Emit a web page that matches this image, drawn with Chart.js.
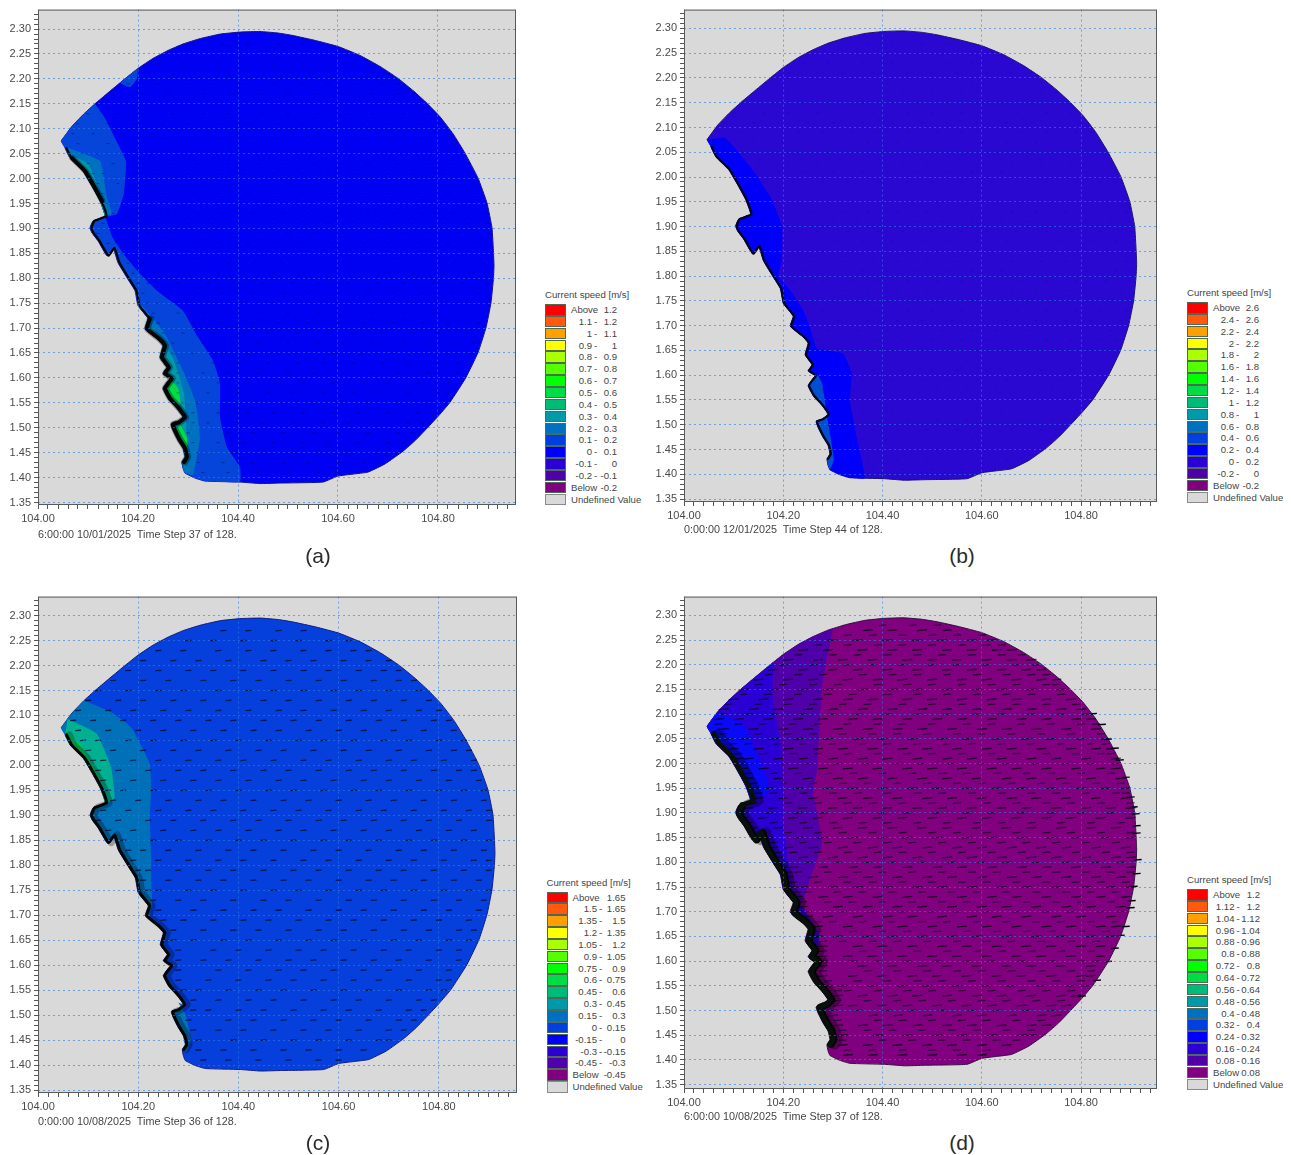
<!DOCTYPE html>
<html><head><meta charset="utf-8">
<script src="https://cdn.jsdelivr.net/npm/chart.js@4/dist/chart.umd.min.js"></script>
<style>
html,body{margin:0;padding:0;background:#fff;width:1291px;height:1155px;overflow:hidden;font-family:"Liberation Sans",Arial,sans-serif;}
body{filter:blur(.35px);}
canvas{position:absolute;display:block;}
.t{position:absolute;white-space:pre;color:#454545;font-size:9.6px;line-height:12px;}
.c{position:absolute;white-space:pre;color:#2a2a2a;font-size:21px;line-height:24px;transform:translateX(-50%);}
.s{position:absolute;box-sizing:border-box;border:1px solid #4d6a58;}
</style></head><body>
<script>
// ---------- data, [lon, lat] ----------
const yTickLabels=['2.30','2.25','2.20','2.15','2.10','2.05','2.00','1.95','1.90','1.85','1.80','1.75','1.70','1.65','1.60','1.55','1.50','1.45','1.40','1.35'];
const xTickLabels=['104.00','104.20','104.40','104.60','104.80'];

const outerArc=[[104.046,2.075],[104.068,2.105],[104.092,2.130],[104.114,2.150],[104.140,2.172],[104.170,2.197],[104.200,2.221],[104.230,2.241],[104.260,2.257],[104.290,2.270],[104.325,2.281],[104.365,2.290],[104.405,2.294],[104.444,2.295],[104.480,2.292],[104.510,2.287],[104.555,2.277],[104.600,2.265],[104.644,2.247],[104.684,2.225],[104.720,2.201],[104.752,2.175],[104.778,2.151],[104.804,2.124],[104.830,2.090],[104.854,2.051],[104.880,2.001],[104.898,1.951],[104.908,1.901],[104.911,1.851],[104.912,1.825],[104.911,1.801],[104.906,1.751],[104.896,1.701],[104.880,1.651],[104.856,1.601],[104.824,1.551],[104.802,1.525],[104.778,1.499],[104.755,1.475],[104.730,1.453],[104.695,1.428],[104.660,1.411],[104.630,1.407],[104.600,1.403],[104.570,1.391],[104.484,1.389],[104.444,1.388],[104.404,1.391],[104.334,1.393],[104.314,1.399],[104.294,1.409],[104.290,1.419]];
const coast=[[104.288,1.431],[104.294,1.441],[104.290,1.459],[104.280,1.475],[104.270,1.495],[104.266,1.507],[104.278,1.511],[104.290,1.521],[104.278,1.539],[104.260,1.559],[104.250,1.579],[104.258,1.591],[104.264,1.599],[104.250,1.609],[104.258,1.621],[104.244,1.641],[104.250,1.665],[104.238,1.679],[104.214,1.699],[104.220,1.719],[104.200,1.745],[104.194,1.775],[104.178,1.801],[104.160,1.831],[104.150,1.861],[104.138,1.845],[104.120,1.875],[104.108,1.891],[104.104,1.901],[104.110,1.915],[104.134,1.925],[104.124,1.955],[104.110,1.981],[104.090,2.015],[104.064,2.041],[104.054,2.061]];
const northWestArc=[[104.046,2.075],[104.068,2.105],[104.092,2.130],[104.114,2.150]];

// contour bands of panel (a)
const aNorth1=[[104.114,2.150],[104.134,2.121],[104.154,2.081],[104.176,2.035],[104.172,1.971],[104.158,1.929],[104.134,1.923]];
const aPatch=[[104.200,2.221],[104.164,2.192],[104.184,2.183],[104.198,2.199]];
const aSouth1=[[104.134,1.925],[104.150,1.880],[104.174,1.845],[104.190,1.825],[104.204,1.809],[104.238,1.775],[104.290,1.735],[104.318,1.685],[104.350,1.635],[104.364,1.589],[104.364,1.521],[104.378,1.461],[104.404,1.421],[104.404,1.391],[104.334,1.393],[104.314,1.399],[104.294,1.409],[104.290,1.419]];
const aNorth2=[[104.060,2.062],[104.124,2.035],[104.138,1.961],[104.148,1.929],[104.134,1.925]];
const aSouth2=[[104.208,1.745],[104.250,1.695],[104.290,1.615],[104.314,1.555],[104.324,1.481],[104.310,1.405],[104.294,1.409],[104.290,1.419]];
const aNorth3=[[104.060,2.050],[104.100,2.030],[104.125,1.970],[104.135,1.930]];
const aSouth3=[[104.230,1.700],[104.270,1.640],[104.292,1.570],[104.298,1.470],[104.295,1.420]];
const aGreen1=[[104.262,1.600],[104.280,1.580],[104.285,1.550],[104.275,1.535]];
const aGreen2=[[104.285,1.505],[104.298,1.480],[104.298,1.450],[104.292,1.440]];

// contour bands of panel (b)
const bBlue=[[104.046,2.075],[104.083,2.079],[104.133,2.022],[104.173,1.962],[104.197,1.902],[104.197,1.831],[104.190,1.800],[104.215,1.770],[104.240,1.731],[104.254,1.696],[104.268,1.654],[104.320,1.644],[104.338,1.604],[104.334,1.550],[104.348,1.475],[104.364,1.392],[104.334,1.393],[104.314,1.399],[104.294,1.409],[104.290,1.419]];
const bMid=[[104.270,1.600],[104.278,1.584],[104.285,1.540],[104.292,1.495],[104.302,1.430],[104.294,1.409],[104.290,1.419]];

// contour bands of panel (c)
const cBand1=[[104.092,2.130],[104.149,2.105],[104.187,2.075],[104.223,2.004],[104.226,1.950],[104.223,1.896],[104.226,1.816],[104.226,1.770],[104.228,1.724],[104.222,1.700]];
const cBand1Tail=[[104.046,2.075],[104.068,2.105]];
const cSouth=[[104.280,1.525],[104.295,1.500],[104.305,1.450],[104.295,1.425]];
const cBand2=[[104.059,2.093],[104.117,2.064],[104.146,1.996],[104.153,1.935],[104.138,1.924]];
const cBand3=[[104.056,2.070],[104.082,2.045],[104.100,2.015],[104.122,1.975],[104.134,1.930]];

// contour bands of panel (d)
const dBand1=[[104.300,2.274],[104.278,2.154],[104.268,1.987],[104.260,1.946],[104.278,1.839],[104.254,1.765],[104.236,1.715]];
const dBand1Tail=[[104.046,2.075],[104.068,2.105],[104.092,2.130],[104.114,2.150],[104.140,2.172],[104.170,2.197],[104.200,2.221],[104.230,2.241],[104.260,2.257]];
const dBand2=[[104.180,2.205],[104.179,2.130],[104.197,2.027],[104.199,1.946],[104.199,1.880],[104.213,1.785],[104.223,1.715]];
const dBand2Tail=[[104.046,2.075],[104.068,2.105],[104.092,2.130],[104.114,2.150],[104.140,2.172]];
const dBand3=[[104.066,2.103],[104.119,2.081],[104.143,2.027],[104.167,1.972],[104.169,1.940],[104.139,1.926]];
const dBand4=[[104.236,1.715],[104.272,1.655],[104.270,1.630],[104.262,1.600]];

// current arrows: lat, then lon minus 104
const arrowRows=[
[2.27,.37,.42,.48,.53],
[2.25,.30,.35,.41,.47,.52,.58,.62],
[2.23,.24,.29,.36,.42,.47,.53,.58,.63,.66],
[2.21,.21,.27,.32,.38,.45,.50,.55,.61,.66,.70],
[2.19,.18,.24,.30,.35,.41,.47,.53,.58,.64,.69,.72],
[2.17,.15,.21,.26,.33,.39,.44,.50,.56,.61,.67,.72,.75],
[2.15,.12,.18,.24,.29,.36,.42,.47,.53,.59,.64,.70,.76],
[2.13,.10,.16,.21,.27,.33,.38,.45,.50,.56,.62,.67,.73,.78],
[2.11,.08,.14,.19,.25,.30,.36,.42,.48,.53,.59,.65,.70,.76,.80],
[2.09,.07,.11,.17,.23,.28,.34,.39,.45,.51,.56,.62,.68,.73,.79,.82],
[2.07,.08,.14,.20,.25,.31,.37,.43,.48,.54,.60,.65,.71,.77,.83],
[2.05,.09,.12,.18,.23,.29,.35,.40,.46,.52,.57,.63,.69,.74,.80,.85],
[2.03,.10,.15,.21,.27,.32,.38,.44,.49,.55,.61,.66,.72,.78,.83,.86],
[2.01,.11,.13,.19,.24,.30,.36,.41,.47,.53,.58,.64,.70,.75,.81,.87],
[1.99,.12,.16,.22,.28,.33,.39,.45,.50,.56,.62,.67,.73,.79,.84,.87],
[1.97,.13,.19,.25,.31,.36,.42,.48,.53,.59,.65,.70,.76,.82,.88],
[1.95,.14,.17,.23,.29,.34,.40,.46,.51,.57,.63,.68,.74,.80,.85,.89],
[1.93,.15,.20,.26,.32,.37,.43,.49,.54,.60,.66,.71,.77,.83,.89],
[1.91,.13,.18,.24,.30,.35,.41,.47,.52,.58,.64,.69,.75,.81,.86,.90],
[1.89,.12,.16,.22,.27,.33,.39,.44,.50,.56,.61,.67,.73,.78,.84,.90],
[1.87,.14,.19,.25,.31,.36,.42,.48,.53,.59,.65,.70,.76,.82,.87],
[1.85,.17,.23,.28,.34,.40,.45,.51,.57,.62,.68,.74,.79,.85,.90],
[1.83,.18,.21,.26,.32,.38,.43,.49,.55,.60,.66,.72,.77,.83,.89],
[1.81,.19,.24,.30,.36,.41,.47,.53,.58,.64,.70,.75,.81,.87,.90],
[1.79,.20,.22,.28,.34,.39,.45,.51,.56,.62,.68,.73,.79,.85,.90],
[1.77,.21,.26,.32,.37,.43,.49,.54,.60,.66,.71,.77,.83,.88],
[1.75,.22,.24,.30,.35,.41,.47,.52,.58,.64,.69,.75,.81,.86,.90],
[1.73,.23,.28,.33,.39,.45,.50,.56,.62,.67,.73,.79,.84,.89],
[1.71,.24,.31,.37,.43,.48,.54,.60,.65,.71,.77,.82,.88],
[1.69,.25,.29,.35,.41,.46,.52,.58,.63,.69,.75,.80,.86],
[1.67,.27,.33,.39,.44,.50,.56,.61,.67,.73,.78,.84,.87],
[1.65,.27,.31,.37,.42,.48,.54,.59,.65,.71,.76,.82,.86],
[1.63,.28,.35,.40,.46,.52,.57,.63,.69,.74,.80,.84],
[1.61,.28,.33,.38,.44,.50,.55,.61,.67,.72,.78,.84],
[1.59,.28,.36,.42,.48,.53,.59,.65,.70,.76,.82],
[1.57,.28,.34,.40,.46,.51,.57,.63,.68,.74,.80,.82],
[1.55,.29,.32,.38,.44,.49,.55,.61,.66,.72,.78,.81],
[1.53,.31,.36,.42,.47,.53,.59,.64,.70,.76,.79],
[1.51,.31,.34,.40,.45,.51,.57,.62,.68,.74,.77],
[1.49,.30,.38,.43,.49,.55,.60,.66,.72,.75],
[1.47,.31,.36,.41,.47,.53,.58,.64,.70,.73],
[1.45,.32,.39,.45,.51,.56,.62,.68,.70],
[1.43,.32,.37,.43,.49,.54,.60,.65],
[1.41,.33,.38,.44,.50,.56,.60]];
// denser field seen only in panel (d)
const arrowRowsD=[
[2.28,.40,.46,.51],
[2.26,.33,.38,.44,.50,.55,.60],
[2.24,.27,.33,.39,.44,.50,.56,.61,.64],
[2.22,.23,.30,.35,.41,.47,.52,.58,.64,.68],
[2.20,.20,.26,.33,.38,.44,.50,.55,.61,.67,.71],
[2.18,.17,.23,.28,.36,.42,.47,.53,.59,.65,.70,.73],
[2.16,.15,.20,.26,.31,.39,.45,.50,.56,.62,.67,.73,.75],
[2.14,.12,.17,.23,.29,.34,.41,.47,.53,.59,.65,.70,.76],
[2.12,.09,.15,.21,.26,.32,.37,.44,.50,.56,.62,.67,.73,.79],
[2.10,.08,.13,.18,.24,.30,.35,.41,.47,.53,.59,.64,.70,.76,.81],
[2.08,.07,.11,.16,.22,.27,.33,.39,.44,.50,.57,.62,.68,.74,.80,.83],
[2.06,.08,.15,.21,.26,.32,.38,.43,.49,.55,.60,.66,.72,.78,.84],
[2.04,.10,.13,.19,.24,.30,.36,.41,.47,.53,.58,.64,.70,.76,.82,.85],
[2.02,.11,.16,.22,.27,.33,.39,.45,.50,.56,.62,.67,.73,.79,.84,.86],
[2.00,.12,.14,.20,.25,.31,.37,.43,.48,.54,.60,.65,.71,.77,.82,.87],
[1.98,.13,.18,.23,.29,.34,.40,.46,.52,.57,.63,.69,.74,.80,.86],
[1.96,.14,.20,.26,.32,.37,.43,.49,.55,.60,.66,.72,.77,.83,.88],
[1.94,.15,.18,.24,.30,.35,.41,.47,.52,.58,.64,.70,.75,.81,.87,.89],
[1.92,.14,.21,.27,.33,.38,.44,.50,.55,.61,.67,.73,.78,.84,.90],
[1.90,.12,.17,.23,.28,.34,.40,.45,.51,.57,.62,.68,.74,.80,.86],
[1.88,.13,.18,.24,.30,.36,.41,.47,.53,.59,.64,.70,.76,.82,.88],
[1.86,.16,.21,.27,.32,.38,.44,.50,.55,.61,.67,.73,.78,.84,.90],
[1.84,.18,.24,.29,.35,.41,.46,.52,.58,.64,.69,.75,.81,.87],
[1.82,.19,.22,.27,.33,.39,.44,.50,.56,.62,.68,.73,.79,.85,.90],
[1.80,.20,.25,.31,.37,.42,.48,.54,.60,.65,.71,.77,.83,.88],
[1.78,.21,.23,.29,.35,.40,.46,.52,.58,.63,.69,.75,.81,.86,.90],
[1.76,.22,.27,.33,.38,.44,.50,.56,.61,.67,.73,.79,.84,.89],
[1.74,.23,.25,.31,.36,.42,.48,.54,.59,.65,.71,.77,.82,.87],
[1.72,.24,.29,.34,.40,.46,.52,.57,.63,.69,.75,.80,.86],
[1.70,.25,.32,.38,.44,.50,.55,.61,.67,.73,.78,.84,.88],
[1.68,.27,.30,.36,.42,.48,.53,.59,.65,.71,.76,.82,.87],
[1.66,.27,.34,.40,.45,.51,.57,.63,.69,.74,.80,.85],
[1.64,.28,.32,.38,.43,.49,.55,.61,.66,.72,.78,.83],
[1.62,.28,.36,.41,.47,.53,.59,.64,.70,.76,.82],
[1.60,.28,.34,.39,.45,.51,.57,.62,.68,.74,.80,.83],
[1.58,.28,.37,.43,.49,.55,.60,.66,.72,.78,.82],
[1.56,.29,.35,.41,.47,.52,.58,.64,.70,.75,.80],
[1.54,.31,.33,.39,.45,.50,.56,.62,.68,.73,.78],
[1.52,.31,.37,.43,.48,.54,.60,.65,.71,.76],
[1.50,.30,.35,.41,.46,.52,.58,.63,.69,.74],
[1.48,.31,.39,.44,.50,.56,.61,.67,.72],
[1.46,.32,.37,.42,.48,.54,.59,.65,.70],
[1.44,.32,.40,.46,.52,.57,.63,.67],
[1.42,.33,.38,.44,.50,.55,.61]];
const dEdgeArrows=[[104.824,2.101],[104.842,2.079],[104.854,2.049],[104.868,2.031],[104.878,2.007],[104.890,1.972],[104.900,1.932],[104.906,1.912],[104.910,1.898],[104.912,1.874],[104.912,1.859],[104.914,1.805],[104.912,1.777],[104.906,1.751],[104.902,1.722],[104.900,1.708],[104.890,1.670],[104.880,1.652],[104.868,1.626],[104.854,1.599],[104.832,1.561],[104.802,1.529]];

// legends
const legendTitle='Current speed [m/s]';
const legendA=[['Above','1.2'],['1.1','1.2'],['1','1.1'],['0.9','1'],['0.8','0.9'],['0.7','0.8'],['0.6','0.7'],['0.5','0.6'],['0.4','0.5'],['0.3','0.4'],['0.2','0.3'],['0.1','0.2'],['0','0.1'],['-0.1','0'],['-0.2','-0.1'],['Below','-0.2']];
const legendB=[['Above','2.6'],['2.4','2.6'],['2.2','2.4'],['2','2.2'],['1.8','2'],['1.6','1.8'],['1.4','1.6'],['1.2','1.4'],['1','1.2'],['0.8','1'],['0.6','0.8'],['0.4','0.6'],['0.2','0.4'],['0','0.2'],['-0.2','0'],['Below','-0.2']];
const legendC=[['Above','1.65'],['1.5','1.65'],['1.35','1.5'],['1.2','1.35'],['1.05','1.2'],['0.9','1.05'],['0.75','0.9'],['0.6','0.75'],['0.45','0.6'],['0.3','0.45'],['0.15','0.3'],['0','0.15'],['-0.15','0'],['-0.3','-0.15'],['-0.45','-0.3'],['Below','-0.45']];
const legendD=[['Above','1.2'],['1.12','1.2'],['1.04','1.12'],['0.96','1.04'],['0.88','0.96'],['0.8','0.88'],['0.72','0.8'],['0.64','0.72'],['0.56','0.64'],['0.48','0.56'],['0.4','0.48'],['0.32','0.4'],['0.24','0.32'],['0.16','0.24'],['0.08','0.16'],['Below','0.08']];
const undefinedLabel='Undefined Value';
const statusA='6:00:00 10/01/2025  Time Step 37 of 128.';
const statusB='0:00:00 12/01/2025  Time Step 44 of 128.';
const statusC='0:00:00 10/08/2025  Time Step 36 of 128.';
const statusD='6:00:00 10/08/2025  Time Step 37 of 128.';

// ---------- styles ----------
const ramp=['#ff0000','#ff5a10','#ffa000','#ffff00','#aaff00','#55ff00','#00ff00','#00dd44','#00bb77','#0099aa','#0070c0','#0040e0','#0000ff','#2b00d4','#5000a8','#800080'];
const GREY='#d9d9d9';
const pts=a=>a.map(p=>({x:p[0],y:p[1]}));
const coastIn=(s,n)=>coast.filter(p=>p[1]>=s&&p[1]<=n);
const zone=(off,s,n,tail)=>off.concat(coastIn(s,n),tail||[]);
const flat=rows=>rows.flatMap(r=>r.slice(1).map(v=>[104+v,r[0]]));
const arrowPts=flat(arrowRows);
const arrowPtsD=flat(arrowRowsD);
const outline=outerArc.concat(coast);
const seaward=(a,d)=>a.map(p=>[p[0]+d,p[1]]);

function poly(points,color,line){
  return {data:pts(points),showLine:true,fill:'shape',tension:.12,backgroundColor:color,borderColor:line||color,borderWidth:line?1:0,pointRadius:0};
}
function stroke(points,color,w){
  return {data:pts(points),showLine:true,fill:false,tension:.12,borderColor:color,borderWidth:w,pointRadius:0,borderJoinStyle:'round',borderCapStyle:'round'};
}
function arrows(points,color,r,w,rot){
  return {data:pts(points),showLine:false,pointStyle:'line',pointRadius:r,pointBorderWidth:w,pointBorderColor:color,pointBackgroundColor:color,pointRotation:rot};
}

const panels=[
{box:[0,0,540,530],area:[38,8,516,505],x:[104,104.956],y:[1.345,2.339],legend:legendA,col:[47,49,72],lx:545,ly:304,status:statusA,sx:38,sy:528,cap:'(a)',cx:318,cy:544,
 sets:[poly(outline,'#0000f2','#10108a'),
  poly(aPatch,'#0645da'),poly(zone(aNorth1,1.92,2.08,northWestArc),'#0645da'),poly(zone(aSouth1,1.41,1.93),'#0645da'),
  poly(zone(aNorth2,1.92,2.07),'#0070c0'),poly(zone(aSouth2,1.41,1.75),'#0070c0'),
  poly(zone(aNorth3,1.92,2.06),'#0099aa'),poly(zone(aSouth3,1.42,1.70),'#0099aa'),
  poly(zone(aGreen1,1.535,1.60),'#00dd44'),poly(zone(aGreen2,1.44,1.505),'#00dd44'),
  arrows(arrowPts,'rgba(0,0,60,.42)',1.5,1,0),
  stroke(seaward(coastIn(1.42,1.72),.005),'rgba(0,0,0,.35)',7),stroke(seaward(coastIn(1.93,2.06),.005),'rgba(0,0,0,.35)',6),
  stroke(seaward(coast,.003),'#050505',2.2),stroke(seaward(coastIn(1.42,1.72),.004),'#050505',4),stroke(seaward(coastIn(1.93,2.06),.004),'#050505',4)]},
{box:[640,0,540,530],area:[684,8,1157,502],x:[104,104.953],y:[1.344,2.338],legend:legendB,col:[47,49,72],lx:1187,ly:302,status:statusB,sx:684,sy:523,cap:'(b)',cx:962,cy:544,
 sets:[poly(outline,'#2a08d2','#1a1070'),
  poly(zone(bBlue,1.41,2.07),'#0000fa'),poly(zone(bMid,1.42,1.60),'#0050d0'),
  arrows(arrowPts,'rgba(10,0,80,.18)',1.3,1,0),
  stroke(seaward(coast,.002),'#050520',2.2)]},
{box:[0,587,540,533],area:[38,595,517,1093],x:[104,104.956],y:[1.344,2.338],legend:legendC,col:[50.5,52.5,79],lx:546.5,ly:891.5,status:statusC,sx:38,sy:1115,cap:'(c)',cx:318,cy:1131,
 sets:[poly(outline,'#0640dc','#101a80'),
  poly(zone(cBand1,1.69,2.07,cBand1Tail),'#0070b8'),poly(zone(cSouth,1.42,1.53),'#0070b8'),
  poly(zone(cBand2,1.92,2.07),'#00b090'),poly(zone(cBand3,1.92,2.065),'#00cc50'),
  arrows(arrowPts,'rgba(0,0,30,.7)',3,1.3,-4),
  stroke(seaward(coast,.008),'rgba(0,0,0,.28)',7),
  stroke(seaward(coast,.003),'#050505',3)]},
{box:[640,587,540,529],area:[684,595,1157,1089],x:[104,104.953],y:[1.341,2.338],legend:legendD,col:[47.5,49.5,73],lx:1187,ly:889,status:statusD,sx:684,sy:1110,cap:'(d)',cx:962,cy:1131,
 sets:[poly(outline,'#800080','#301040'),
  poly(zone(dBand1,1.70,2.07,dBand1Tail),'#5000a8'),poly(zone(dBand2,1.70,2.07,dBand2Tail),'#2b00d4'),poly(zone(dBand3,1.92,2.07,[[104.046,2.075]]),'#0a0af8'),
  poly(zone(dBand4,1.60,1.715),'#2b00d4'),
  arrows(arrowPts,'rgba(10,0,20,.8)',5,1.3,-5),arrows(arrowPtsD,'rgba(10,0,20,.7)',4,1.2,-4),arrows(dEdgeArrows,'#0a0014',4,1.4,-4),
  stroke(seaward(coast,.016),'rgba(0,0,0,.35)',10),
  stroke(seaward(coastIn(1.42,1.92),.008),'#040404',7),
  stroke(seaward(coast,.006),'#07100a',5)]}
];

const framePlugin={id:'plotFrame',
 beforeDraw(c){const a=c.chartArea,g=c.ctx;g.save();g.fillStyle=GREY;g.fillRect(a.left,a.top,a.right-a.left,a.bottom-a.top);g.restore();},
 afterDraw(c){const a=c.chartArea,g=c.ctx;g.save();g.strokeStyle='#5a5a5a';g.lineWidth=1;g.strokeRect(a.left+.5,a.top+.5,a.right-a.left-1,a.bottom-a.top-1);g.restore();}};

const GRID='rgba(45,125,225,.62)';
panels.forEach(p=>{
  const cv=document.createElement('canvas');
  cv.width=p.box[2];cv.height=p.box[3];
  cv.style.left=p.box[0]+'px';cv.style.top=p.box[1]+'px';
  document.body.appendChild(cv);
  const yW=p.area[0]-p.box[0],xH=p.box[1]+p.box[3]-p.area[3];
  const n=p.sets.length;
  p.sets.forEach((d,i)=>{d.order=n-i;});
  new Chart(cv,{type:'scatter',data:{datasets:p.sets},plugins:[framePlugin],options:{
    responsive:false,animation:false,events:[],
    layout:{padding:{left:0,top:p.area[1]-p.box[1],right:p.box[0]+p.box[2]-p.area[2],bottom:0}},
    plugins:{legend:{display:false},tooltip:{enabled:false},title:{display:false}},
    scales:{
      x:{type:'linear',min:p.x[0],max:p.x[1],
        afterFit:s=>{s.height=xH;},
        afterBuildTicks:s=>{const t=[];for(let i=0;i<=47;i++)t.push({value:104+i*0.02});s.ticks=t;},
        grid:{z:1,drawTicks:true,tickLength:4,tickColor:'#555',
          color:c=>Math.round((c.tick?c.tick.value:0)*100)%20===0?GRID:'rgba(0,0,0,0)',lineWidth:1},
        border:{display:false,dash:[2,3]},
        ticks:{autoSkip:false,maxRotation:0,padding:3,color:'#4a4a4a',font:{family:'"Liberation Sans"',size:11},
          callback:v=>{const k=Math.round(v*100);return k%20===0?xTickLabels[(k-10400)/20]:'';}}},
      y:{type:'linear',min:p.y[0],max:p.y[1],
        afterFit:s=>{s.width=yW;},
        afterBuildTicks:s=>{const t=[];for(let i=0;i<=98;i++)t.push({value:1.35+i*0.01});s.ticks=t;},
        grid:{z:1,drawTicks:true,tickLength:4,tickColor:'#555',
          color:c=>Math.round((c.tick?c.tick.value:0)*100)%5===0?GRID:'rgba(0,0,0,0)',lineWidth:1},
        border:{display:false,dash:[2,3]},
        ticks:{autoSkip:false,padding:3,color:'#4a4a4a',font:{family:'"Liberation Sans"',size:11},
          callback:v=>{const k=Math.round(v*100);return k%5===0&&k<=230?yTickLabels[(230-k)/5]:'';}}}
    }}});
  // status line + caption
  const st=document.createElement('div');st.className='t';st.textContent=p.status;st.style.left=p.sx+'px';st.style.top=p.sy+'px';st.style.fontSize='10.8px';document.body.appendChild(st);
  const cap=document.createElement('div');cap.className='c';cap.textContent=p.cap;cap.style.left=p.cx+'px';cap.style.top=p.cy+'px';document.body.appendChild(cap);
  // legend
  const P=11.85;
  const put=(txt,x,y,right)=>{const e=document.createElement('div');e.className='t';e.textContent=txt;e.style.top=y+'px';
    if(right){e.style.right=(1291-x)+'px';}else{e.style.left=x+'px';}document.body.appendChild(e);};
  put(legendTitle,p.lx,p.ly-15,false);
  p.legend.forEach((r,i)=>{
    const y=p.ly+i*P;
    const s=document.createElement('div');s.className='s';s.style.cssText+=`left:${p.lx}px;top:${y}px;width:21px;height:11.5px;background:${ramp[i]};`;document.body.appendChild(s);
    if(r[0]==='Above'||r[0]==='Below'){put(r[0],p.lx+26,y,false);put(r[1],p.lx+p.col[2],y,true);}
    else{put(r[0],p.lx+p.col[0],y,true);put('-',p.lx+p.col[1],y,false);put(r[1],p.lx+p.col[2],y,true);}
  });
  const yu=p.ly+16*P;
  const s=document.createElement('div');s.className='s';s.style.cssText+=`left:${p.lx}px;top:${yu}px;width:21px;height:11.5px;background:${GREY};border-color:#8a8a8a;`;document.body.appendChild(s);
  put(undefinedLabel,p.lx+26,yu,false);
});
</script>
</body></html>
